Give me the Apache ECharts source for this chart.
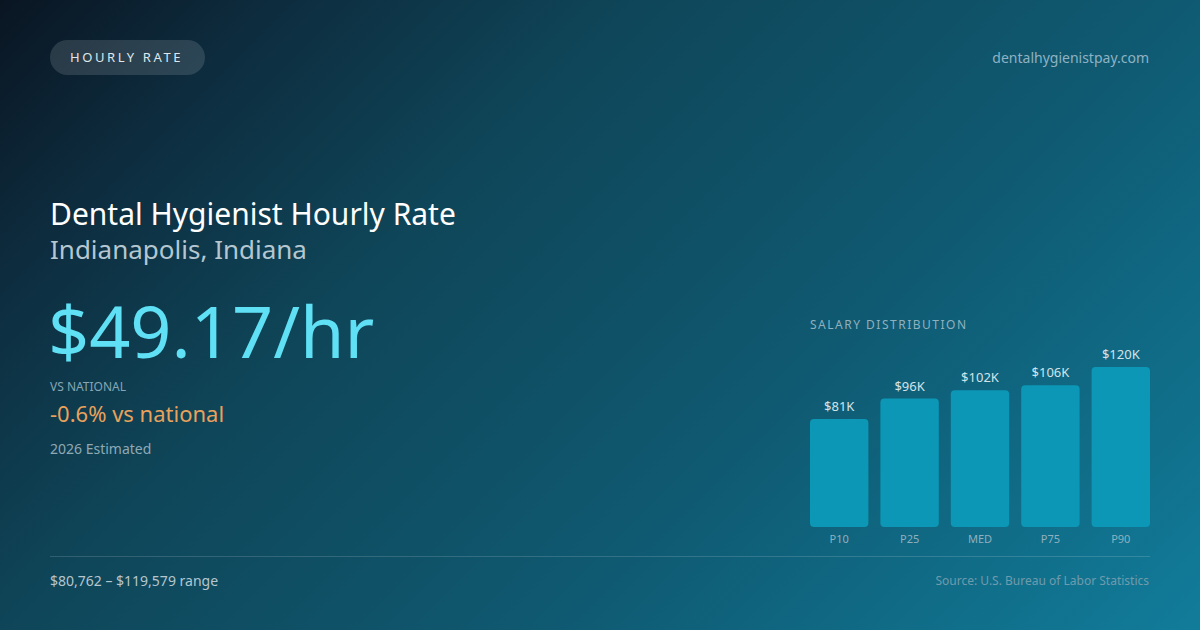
<!DOCTYPE html>
<html>
<head>
<meta charset="utf-8">
<script src="https://cdn.jsdelivr.net/npm/echarts@6/dist/echarts.min.js"></script>
<style>
html,body{margin:0;padding:0;width:1200px;height:630px;overflow:hidden;}
#chart{width:1200px;height:630px;}
</style>
</head>
<body>
<div id="chart"></div>
<script>
const categories = ['P10', 'P25', 'MED', 'P75', 'P90'];
const salaryValues = [80762, 96000, 102274, 106000, 119579];
const barLabels = ['$81K', '$96K', '$102K', '$106K', '$120K'];

const FONT = '"Noto Sans", "Open Sans", sans-serif';
const chart = echarts.init(document.getElementById('chart'), null, {renderer: 'svg'});

chart.setOption({
  backgroundColor: {
    type: 'linear', global: true, x: 142, y: -142, x2: 1058, y2: 772,
    colorStops: [
      {offset: 0, color: '#0a1522'},
      {offset: 0.15, color: '#0d2c3e'},
      {offset: 0.35, color: '#0f4659'},
      {offset: 0.65, color: '#0f5a72'},
      {offset: 1, color: '#117c9a'}
    ]
  },
  animation: false,
  grid: {left: 804, right: 44, top: 367, bottom: 103, containLabel: false},
  xAxis: {
    type: 'category',
    data: categories,
    axisLine: {show: false},
    axisTick: {show: false},
    axisLabel: {color: '#8fb0bf', fontSize: 11, fontFamily: FONT, margin: 6}
  },
  yAxis: {
    type: 'value', min: 0, max: 'dataMax',
    show: false, splitLine: {show: false}
  },
  series: [{
    type: 'bar',
    data: salaryValues,
    barCategoryGap: '17%',
    itemStyle: {color: '#0b97b5', borderRadius: 4},
    label: {
      show: true, position: 'top', distance: 6.5,
      color: '#d3e3ea', fontSize: 13, fontFamily: FONT,
      formatter: p => barLabels[p.dataIndex]
    }
  }],
  graphic: [
    {type: 'rect', shape: {x: 50, y: 40, width: 155, height: 35, r: 17.5},
     style: {fill: 'rgba(255,255,255,0.13)'}},
    {type: 'text', x: 70, y: 57,
     style: {text: 'HOURLY RATE', fill: '#dde7ec', fontSize: 13, fontFamily: FONT,
             align: 'left', verticalAlign: 'middle'}},
    {type: 'text', x: 1149, y: 57.5,
     style: {text: 'dentalhygienistpay.com', fill: '#8eb2c3', fontSize: 14, fontFamily: FONT,
             align: 'right', verticalAlign: 'middle'}},
    {type: 'text', x: 50, y: 213,
     style: {text: 'Dental Hygienist Hourly Rate', fill: '#ffffff', fontSize: 30, fontFamily: FONT,
             align: 'left', verticalAlign: 'middle'}},
    {type: 'text', x: 50, y: 249,
     style: {text: 'Indianapolis, Indiana', fill: '#b4c7d1', fontSize: 26, fontFamily: FONT,
             align: 'left', verticalAlign: 'middle'}},
    {type: 'text', x: 48, y: 330,
     style: {text: '$49.17/hr', fill: '#5fe0f5', fontSize: 72, fontFamily: FONT,
             align: 'left', verticalAlign: 'middle'}},
    {type: 'text', x: 50, y: 386.5,
     style: {text: 'VS NATIONAL', fill: '#86a6b5', fontSize: 12, fontFamily: FONT,
             align: 'left', verticalAlign: 'middle'}},
    {type: 'text', x: 50, y: 412.5,
     style: {text: '-0.6% vs national', fill: '#e9a15c', fontSize: 22, fontFamily: FONT,
             align: 'left', verticalAlign: 'middle'}},
    {type: 'text', x: 50, y: 448.5,
     style: {text: '2026 Estimated', fill: '#8ea9b6', fontSize: 14, fontFamily: FONT,
             align: 'left', verticalAlign: 'middle'}},
    {type: 'text', x: 810, y: 324.5,
     style: {text: 'SALARY DISTRIBUTION', fill: '#8fb0bf', fontSize: 12, fontFamily: FONT,
             align: 'left', verticalAlign: 'middle'}},
    {type: 'line', shape: {x1: 50, y1: 556.5, x2: 1150, y2: 556.5},
     style: {stroke: 'rgba(255,255,255,0.15)', lineWidth: 1}},
    {type: 'text', x: 50, y: 580.5,
     style: {text: '$80,762 – $119,579 range', fill: '#b5c6ce', fontSize: 14, fontFamily: FONT,
             align: 'left', verticalAlign: 'middle'}},
    {type: 'text', x: 1149, y: 580.5,
     style: {text: 'Source: U.S. Bureau of Labor Statistics', fill: '#709bad', fontSize: 12, fontFamily: FONT,
             align: 'right', verticalAlign: 'middle'}}
  ]
});

// letter spacing for the two spaced caption texts (SVG renderer)
const spacing = {'HOURLY RATE': '2.6px', 'SALARY DISTRIBUTION': '1.5px'};
function applySpacing() {
  document.querySelectorAll('#chart svg text').forEach(t => {
    const s = spacing[t.textContent];
    if (s) t.setAttribute('letter-spacing', s);
  });
}
applySpacing();
chart.on('finished', applySpacing);
</script>
</body>
</html>
